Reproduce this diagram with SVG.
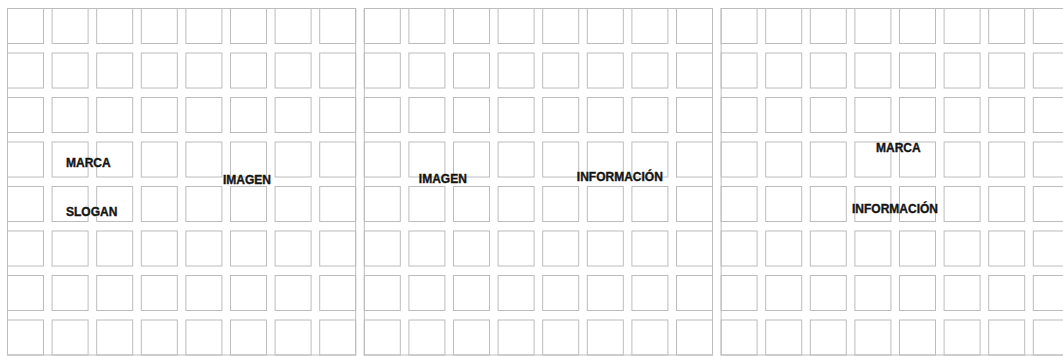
<svg xmlns="http://www.w3.org/2000/svg" xmlns:xlink="http://www.w3.org/1999/xlink" width="1063" height="356" viewBox="0 0 1063 356">
  <style>
    .cell { fill: #ffffff; stroke: #bcbcbc; stroke-width: 1; }
    .frame { fill: none; stroke: #bcbcbc; stroke-width: 1; }
    .lbl { font-family: "Liberation Sans", Arial, sans-serif; font-weight: bold; font-size: 12px; fill: #141414; stroke: #141414; stroke-width: 0.35; }
  </style>
  <defs>
    <g id="row">
      <rect class="cell" x="7.5" y="0" width="36" height="35"/>
      <rect class="cell" x="52.1" y="0" width="36" height="35"/>
      <rect class="cell" x="96.7" y="0" width="36" height="35"/>
      <rect class="cell" x="141.3" y="0" width="36" height="35"/>
      <rect class="cell" x="185.9" y="0" width="36" height="35"/>
      <rect class="cell" x="230.5" y="0" width="36" height="35"/>
      <rect class="cell" x="275.1" y="0" width="36" height="35"/>
      <rect class="cell" x="319.7" y="0" width="36" height="35"/>
    </g>
    <g id="panelgrid">
      <use xlink:href="#row" y="8.5"/>
      <use xlink:href="#row" y="53"/>
      <use xlink:href="#row" y="97.5"/>
      <use xlink:href="#row" y="142"/>
      <use xlink:href="#row" y="186.5"/>
      <use xlink:href="#row" y="231"/>
      <use xlink:href="#row" y="275.5"/>
      <use xlink:href="#row" y="320"/>
      <rect class="frame" x="7.5" y="8.5" width="348.2" height="346.5"/>
    </g>
  </defs>
  <rect x="0" y="0" width="1063" height="356" fill="#ffffff"/>

  <g id="panel1">
    <use xlink:href="#panelgrid"/>
    <text class="lbl" x="66" y="167">MARCA</text>
    <text class="lbl" x="66" y="216">SLOGAN</text>
    <text class="lbl" x="223" y="184">IMAGEN</text>
  </g>

  <g id="panel2" transform="translate(356.8,0)">
    <use xlink:href="#panelgrid"/>
    <text class="lbl" x="62" y="183">IMAGEN</text>
    <text class="lbl" x="220" y="181">INFORMACIÓN</text>
  </g>

  <g id="panel3" transform="translate(713.6,0)">
    <use xlink:href="#panelgrid"/>
    <text class="lbl" x="162.4" y="152">MARCA</text>
    <text class="lbl" x="138.4" y="213">INFORMACIÓN</text>
  </g>

  <g id="connectors"/>
</svg>
